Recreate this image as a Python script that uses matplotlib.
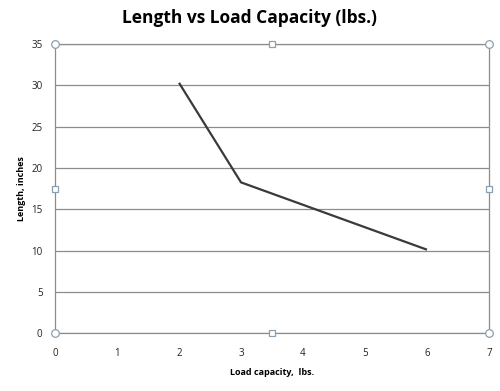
import matplotlib.pyplot as plt

# data
load_lbs = [2, 3, 6]
length_in = [30.3, 18.25, 10.1]
x_ticks = [0, 1, 2, 3, 4, 5, 6, 7]
y_ticks = [0, 5, 10, 15, 20, 25, 30, 35]

plt.rcParams['font.family'] = ['Open Sans', 'DejaVu Sans']

fig = plt.figure(figsize=(5, 3.91), dpi=100)
ax = fig.add_axes([0.11, 0.148, 0.868, 0.7395])

ax.plot(load_lbs, length_in, color='#3a3a3a', lw=1.6, solid_capstyle='butt')

ax.set_xlim(0, 7)
ax.set_ylim(0, 35)
ax.set_xticks(x_ticks)
ax.set_yticks(y_ticks)
ax.tick_params(length=0, labelsize=7, colors='#222222')
ax.tick_params(axis='x', pad=11)
ax.tick_params(axis='y', pad=9)
ax.grid(axis='y', color='#8c8c8c', lw=0.9)
ax.set_axisbelow(True)
for s in ax.spines.values():
    s.set_color('#8c8c8c')
    s.set_linewidth(0.9)

# title sits centred on the whole figure, not on the plot area
fig.suptitle('Length vs Load Capacity (lbs.)', x=0.5, y=0.955, va='center',
             fontsize=12.5, fontweight='bold')
ax.set_xlabel('Load capacity,  lbs.', fontsize=6.5, fontweight='bold', labelpad=6)
ax.set_ylabel('Length, inches', fontsize=6.5, fontweight='bold', labelpad=4)

# selection handles around the plot area
hs = dict(transform=ax.transAxes, clip_on=False, mfc='white', mec='#8aa0b0', mew=0.9, ls='none', zorder=5)
ax.plot([0, 1, 0, 1], [0, 0, 1, 1], marker='o', ms=5.5, **hs)
ax.plot([0.5, 0.5, 0, 1], [0, 1, 0.5, 0.5], marker='s', ms=4.2, **hs)

fig.savefig('out.png', dpi=100)
